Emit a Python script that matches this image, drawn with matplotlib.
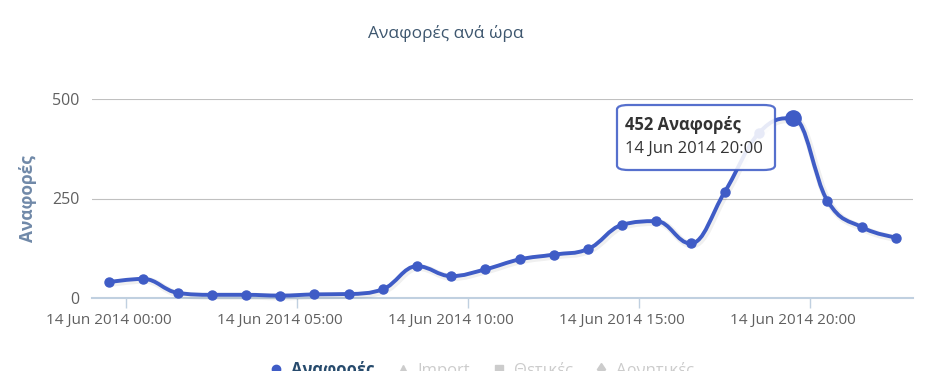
import numpy as np
import matplotlib
matplotlib.use("Agg")
from matplotlib import pyplot as plt
from matplotlib.path import Path
from matplotlib.patches import PathPatch, FancyBboxPatch
from matplotlib.lines import Line2D
import matplotlib.patheffects as pe

plt.rcParams["font.family"] = ["Open Sans", "DejaVu Sans"]

# reports per hour, 14 Jun 2014 00:00 .. 23:00
hours = list(range(24))
reports = [40, 48, 13, 8, 8, 6, 9, 10, 22, 80, 55, 72,
           97, 109, 123, 184, 193, 137, 267, 415, 452, 244, 178, 152]
tick_hours = [0, 5, 10, 15, 20]
tick_labels = ["14 Jun 2014 00:00", "14 Jun 2014 05:00", "14 Jun 2014 10:00",
               "14 Jun 2014 15:00", "14 Jun 2014 20:00"]
series_names = ["Αναφορές", "Import", "Θετικές", "Αρνητικές"]
date_prefix = "14 Jun 2014"

BLUE = "#3f5cc6"


def spline_path(xs, ys):
    # highcharts-like spline: smoothing 1.5
    n = len(xs)
    left = [None] * n
    right = [None] * n
    for i in range(1, n - 1):
        x, y = xs[i], ys[i]
        lx, ly = xs[i - 1], ys[i - 1]
        nx, ny = xs[i + 1], ys[i + 1]
        lcx = (1.5 * x + lx) / 2.5
        lcy = (1.5 * y + ly) / 2.5
        rcx = (1.5 * x + nx) / 2.5
        rcy = (1.5 * y + ny) / 2.5
        if rcx != lcx:
            corr = (rcy - lcy) * (rcx - x) / (rcx - lcx) + y - rcy
            lcy += corr
            rcy += corr
        if lcy > max(ly, y):
            lcy = max(ly, y)
            rcy = 2 * y - lcy
        elif lcy < min(ly, y):
            lcy = min(ly, y)
            rcy = 2 * y - lcy
        if rcy > max(ny, y):
            rcy = max(ny, y)
            lcy = 2 * y - rcy
        elif rcy < min(ny, y):
            rcy = min(ny, y)
            lcy = 2 * y - rcy
        left[i] = (lcx, lcy)
        right[i] = (rcx, rcy)
    verts = [(xs[0], ys[0])]
    codes = [Path.MOVETO]
    for i in range(1, n):
        c1 = right[i - 1] or (xs[i - 1], ys[i - 1])
        c2 = left[i] or (xs[i], ys[i])
        verts += [c1, c2, (xs[i], ys[i])]
        codes += [Path.CURVE4] * 3
    return Path(verts, codes)


fig = plt.figure(figsize=(9.51, 3.71), dpi=100)
ax = fig.add_axes([92 / 951, 1 - 298 / 371, (913 - 92) / 951, (298 - 99) / 371])

ax.set_xlim(-0.5, len(hours) - 0.5)
ax.set_ylim(0, 500)

line = PathPatch(spline_path(hours, reports), fill=False, edgecolor=BLUE,
                 linewidth=2.8, capstyle="round", joinstyle="round", zorder=3,
                 path_effects=[pe.SimpleLineShadow(offset=(1, -1), shadow_color="#000000",
                                                   alpha=0.06, linewidth=5),
                               pe.Normal()])
line.set_clip_on(False)
ax.add_patch(line)
ax.plot(hours, reports, "o", color=BLUE, markersize=6.5, zorder=4, clip_on=False)

peak = int(np.argmax(reports))
ax.plot(hours[peak], reports[peak], "o", color=BLUE, markersize=11, zorder=6, clip_on=False)

# axes styling
for s in ["top", "right", "left"]:
    ax.spines[s].set_visible(False)
ax.spines["bottom"].set_color("#c0d0e0")
ax.spines["bottom"].set_linewidth(1.5)
ax.set_yticks([0, 250, 500])
ax.yaxis.grid(True, color="#c0c0c0", linewidth=0.8)
ax.set_axisbelow(True)
ax.tick_params(axis="y", length=0, pad=9, labelsize=11.5, labelcolor="#606060")
ax.set_xticks(tick_hours)
ax.set_xticklabels(tick_labels)
ax.set_xticks([h + 0.5 for h in tick_hours], minor=True)
ax.tick_params(axis="x", which="major", length=0, pad=11, labelsize=11, labelcolor="#606060")
ax.tick_params(axis="x", which="minor", length=7, width=1, color="#c0d0e0")

ax.set_ylabel("Αναφορές", fontsize=12.5, fontweight="bold", color="#7089a8", labelpad=11)
fig.text(446 / 951, 1 - 33 / 371, "Αναφορές ανά ώρα", ha="center", va="center",
         fontsize=12.5, color="#3e576f")

# tooltip
box = FancyBboxPatch((617 / 951, 1 - 170 / 371), (775 - 617) / 951, (170 - 105) / 371,
                     boxstyle="round,pad=0,rounding_size=0.012", transform=fig.transFigure,
                     facecolor="white", edgecolor=BLUE, linewidth=1.6, alpha=0.88, zorder=5)
ax.add_artist(box)
box.set_clip_on(False)
fig.text(625 / 951, 1 - 125 / 371, f"{reports[peak]} {series_names[0]}", ha="left", va="center",
         fontsize=12, fontweight="bold", color="#333333", zorder=7)
fig.text(625 / 951, 1 - 149 / 371, f"{date_prefix} {hours[peak]:02d}:00", ha="left", va="center",
         fontsize=12, color="#333333", zorder=7)

# legend (cut off at the bottom like the original)
handles = [Line2D([], [], color=BLUE, marker="o", linestyle="none", markersize=6),
           Line2D([], [], color="#cccccc", marker="^", linestyle="none", markersize=6),
           Line2D([], [], color="#cccccc", marker="s", linestyle="none", markersize=6),
           Line2D([], [], color="#cccccc", marker="d", linestyle="none", markersize=6)]
leg = fig.legend(handles, series_names, loc="center", bbox_to_anchor=(482 / 951, 1 - 370 / 371),
                 ncol=4, frameon=False, fontsize=12, handlelength=0.8, handletextpad=0.5,
                 columnspacing=1.3)
for i, t in enumerate(leg.get_texts()):
    t.set_color("#274b6d" if i == 0 else "#cccccc")
    if i == 0:
        t.set_fontweight("bold")

fig.savefig("out.png", dpi=100)
